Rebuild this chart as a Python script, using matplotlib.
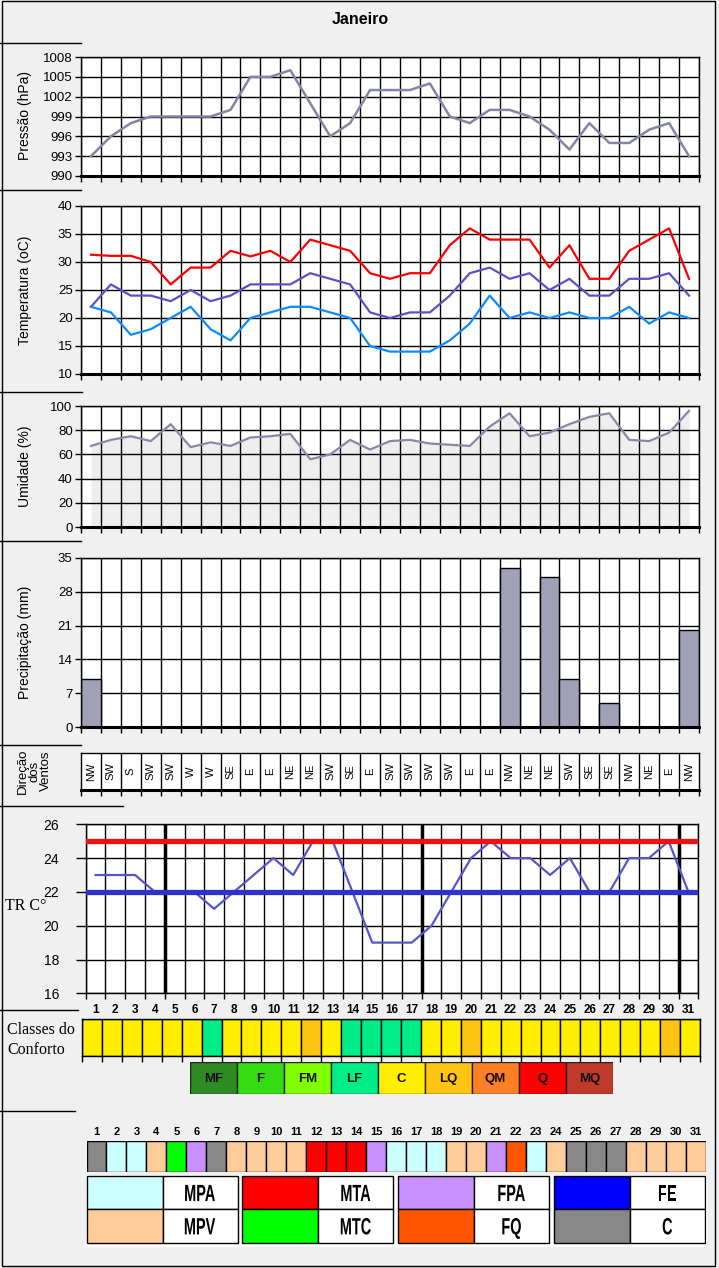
import matplotlib
matplotlib.use('Agg')
import matplotlib.pyplot as plt
from matplotlib import font_manager
from matplotlib.font_manager import FontProperties
from matplotlib.patches import Rectangle, PathPatch
from matplotlib.lines import Line2D
from matplotlib.textpath import TextPath
from matplotlib.transforms import Affine2D, ScaledTranslation
import numpy as np

# ---------------- data ----------------
days = list(range(1, 32))
pressure = [993, 996, 998, 999, 999, 999, 999, 1000, 1005, 1005, 1006, 1001, 996, 998, 1003, 1003,
            1003, 1004, 999, 998, 1000, 1000, 999, 997, 994, 998, 995, 995, 997, 998, 993]
temp_max = [31.3, 31.1, 31.1, 30, 26, 29, 29, 32, 31, 32, 30, 34, 33, 32, 28, 27, 28, 28, 33, 36,
            34, 34, 34, 29, 33, 27, 27, 32, 34, 36, 27]
temp_mean = [22, 26, 24, 24, 23, 25, 23, 24, 26, 26, 26, 28, 27, 26, 21, 20, 21, 21, 24, 28, 29,
             27, 28, 25, 27, 24, 24, 27, 27, 28, 24]
temp_min = [22, 21, 17, 18, 20, 22, 18, 16, 20, 21, 22, 22, 21, 20, 15, 14, 14, 14, 16, 19, 24,
            20, 21, 20, 21, 20, 20, 22, 19, 21, 20]
humidity = [67, 72, 75, 71, 85, 66, 70, 67, 74, 75, 77, 56, 60, 72, 64, 71, 72, 69, 68, 67, 83,
            94, 75, 78, 85, 91, 94, 72, 71, 78, 96]
precip = [10, 0, 0, 0, 0, 0, 0, 0, 0, 0, 0, 0, 0, 0, 0, 0, 0, 0, 0, 0, 0,
          33, 0, 31, 10, 0, 5, 0, 0, 0, 20]
wind = ['NW', 'SW', 'S', 'SW', 'SW', 'W', 'W', 'SE', 'E', 'E', 'NE', 'NE', 'SW', 'SE', 'E', 'SW',
        'SW', 'SW', 'SW', 'E', 'E', 'NW', 'NE', 'NE', 'SW', 'SE', 'SE', 'NW', 'NE', 'E', 'NW']
tr = [23, 23, 23, 22, 22, 22, 21, 22, 23, 24, 23, 25, 25, 22, 19, 19, 19, 20, 22, 24, 25, 24, 24,
      23, 24, 22, 22, 24, 24, 25, 22]
tr_upper = 25
tr_lower = 22
comfort = ['C'] * 6 + ['LF'] + ['C'] * 4 + ['LQ'] + ['C'] + ['LF'] * 4 + ['C', 'C', 'LQ'] + \
          ['C'] * 9 + ['LQ', 'C']
comfort_classes = ['MF', 'F', 'FM', 'LF', 'C', 'LQ', 'QM', 'Q', 'MQ']
comfort_colors = {'MF': '#2e8b22', 'F': '#33dd11', 'FM': '#80ff00', 'LF': '#00ee88',
                  'C': '#ffee00', 'LQ': '#ffc411', 'QM': '#ff7f27', 'Q': '#ff0000', 'MQ': '#c0392b'}
mass = ['C', 'MPA', 'MPA', 'MPV', 'MTC', 'FPA', 'C', 'MPV', 'MPV', 'MPV', 'MPV', 'MTA', 'MTA', 'MTA',
        'FPA', 'MPA', 'MPA', 'MPA', 'MPV', 'MPV', 'FPA', 'FQ', 'MPA', 'MPV', 'C', 'C', 'C', 'MPV',
        'MPV', 'MPV', 'MPV']
mass_colors = {'MPA': '#ccffff', 'MPV': '#ffcc99', 'MTA': '#ff0000', 'MTC': '#00ff00',
               'FPA': '#c890ff', 'FQ': '#ff5500', 'FE': '#0000ff', 'C': '#888888'}
mass_legend = [('MPA', 'MPV'), ('MTA', 'MTC'), ('FPA', 'FQ'), ('FE', 'C')]

# ---------------- setup ----------------
names = {f.name for f in font_manager.fontManager.ttflist}
SANS = 'Liberation Sans' if 'Liberation Sans' in names else 'DejaVu Sans'
SERIF = 'Liberation Serif' if 'Liberation Serif' in names else 'DejaVu Serif'
plt.rcParams['font.family'] = [SANS, 'DejaVu Sans']

W, H = 719, 1268
BG = '#f0f0f0'
fig = plt.figure(figsize=(W / 100, H / 100), dpi=100, facecolor=BG)


def add_ax(x0, y0, x1, y1):
    return fig.add_axes([x0 / W, 1 - y1 / H, (x1 - x0) / W, (y1 - y0) / H])


def fx(x):
    return x / W


def fy(y):
    return 1 - y / H


def stretched_text(ax, x, y, s, em_w, em_h, weight='bold', rot=0, color='black'):
    """Text as a path, with separate horizontal / vertical em sizes (px)."""
    tp = TextPath((0, 0), s, size=100, prop=FontProperties(family=SANS, weight=weight))
    ext = tp.get_extents()
    cx = (ext.x0 + ext.x1) / 2
    cy = 0.716 * 100 / 2
    tr_ = (Affine2D().translate(-cx, -cy).scale(em_w / 100, em_h / 100).rotate_deg(rot)
           + ScaledTranslation(x, y, ax.transData))
    ax.add_patch(PathPatch(tp, transform=tr_, facecolor=color, edgecolor='none', lw=0,
                           clip_on=False))


def style_cat(ax, ylim, yticks, labelsize=9.5):
    ax.set_facecolor('white')
    ax.set_xlim(0.5, 31.5)
    ax.set_ylim(*ylim)
    ax.set_yticks(yticks)
    ax.set_xticks(np.arange(0.5, 32, 1))
    ax.set_xticklabels([])
    ax.tick_params(axis='x', length=4, width=1, direction='out', color='black')
    ax.tick_params(axis='y', length=4, width=1, direction='out', labelsize=labelsize, pad=2)
    ax.grid(True, color='black', lw=1)
    for s in ax.spines.values():
        s.set_color('black')
        s.set_linewidth(1)
    ax.spines['bottom'].set_linewidth(2.2)


def ylabel(text, yc):
    fig.text(fx(25), fy(yc), text, rotation=90, ha='center', va='center', fontsize=10)


# Title
fig.text(fx(360), fy(19), 'Janeiro', ha='center', va='center', fontsize=11.5, fontweight='bold')

# Pressure
ax = add_ax(81, 57, 699, 176)
style_cat(ax, (990, 1008), range(990, 1009, 3))
ax.plot(days, pressure, color='#8484a4', lw=1.8, zorder=3)
ylabel('Pressão (hPa)', 116)

# Temperature
ax = add_ax(81, 206, 699, 374)
style_cat(ax, (10, 40), range(10, 41, 5))
ax.plot(days, temp_max, color='#ff0000', lw=1.6, zorder=3)
ax.plot(days, temp_mean, color='#5a50c8', lw=1.6, zorder=3)
ax.plot(days, temp_min, color='#0a8cff', lw=1.6, zorder=3)
ylabel('Temperatura (oC)', 290)

# Humidity
ax = add_ax(81, 406, 699, 527)
style_cat(ax, (0, 100), range(0, 101, 20))
ax.fill_between(days, humidity, 0, color='#eeeeee', zorder=1, lw=0)
ax.plot(days, humidity, color='#8888a8', lw=1.6, zorder=3)
ylabel('Umidade (%)', 466)

# Precipitation
ax = add_ax(81, 558, 699, 727)
style_cat(ax, (0, 35), range(0, 36, 7))
ax.bar(days, precip, width=1.0, color='#a0a0b8', edgecolor='black', lw=1, zorder=2)
ylabel('Precipitação (mm)', 642)

# Wind direction
ax = add_ax(81, 753, 699, 790)
style_cat(ax, (0, 1), [])
ax.grid(False)
for b in np.arange(1.5, 31, 1):
    ax.axvline(b, color='black', lw=1)
for d, w in zip(days, wind):
    ax.text(d, 0.5, w, rotation=90, ha='center', va='center', fontsize=8)
fig.text(fx(34), fy(771), 'Direção\ndos\nVentos', rotation=90, ha='center', va='center',
         fontsize=9.5, linespacing=0.95, multialignment='center')

# TR chart
ax = add_ax(85.7, 824.3, 698.3, 993.3)
ax.set_facecolor('white')
ax.set_xlim(0.5, 31.5)
ax.set_ylim(16, 26)
ax.set_yticks(range(16, 27, 2))
ax.set_xticks(days)
ax.set_xticklabels([str(d) for d in days], fontsize=8.5, fontweight='bold')
ax.set_xticks(np.arange(0.5, 32, 1), minor=True)
ax.tick_params(axis='x', which='major', length=0, pad=8)
ax.tick_params(axis='x', which='minor', length=4, width=1, direction='out')
ax.tick_params(axis='y', length=7, width=1, direction='out', labelsize=10, pad=12)
ax.grid(True, axis='y', color='black', lw=1)
ax.grid(True, axis='x', which='minor', color='black', lw=1)
for s in ax.spines.values():
    s.set_color('black')
    s.set_linewidth(1)
for b in (4.5, 17.5, 30.5):
    ax.axvline(b, color='black', lw=2.5, zorder=2)
ax.plot(days, tr, color='#5555cc', lw=1.6, zorder=3)
ax.axhline(tr_upper, color='#ee1111', lw=3.8, zorder=4)
ax.axhline(tr_lower, color='#3030cc', lw=3.8, zorder=4)
fig.text(fx(5), fy(906), 'TR C°', ha='left', va='center', fontsize=11.5, family=SERIF)

# Comfort classes strip
ax = add_ax(82, 1019.3, 700, 1055.7)
ax.set_xlim(0.5, 31.5)
ax.set_ylim(0, 1)
ax.bar(days, [1] * 31, width=1.0, color=[comfort_colors[c] for c in comfort],
       edgecolor='black', lw=1)
ax.set_xticks(np.arange(0.5, 32, 1))
ax.set_xticklabels([])
ax.set_yticks([])
ax.tick_params(axis='x', length=4, width=1, direction='out')
for s in ax.spines.values():
    s.set_linewidth(1)
fig.text(fx(7), fy(1030.5), 'Classes do', ha='left', va='center', fontsize=11.5, family=SERIF)
fig.text(fx(7), fy(1050), 'Conforto', ha='left', va='center', fontsize=11.5, family=SERIF)

# Comfort legend
ax = add_ax(190, 1062.3, 613, 1094.3)
ax.set_xlim(0, 9)
ax.set_ylim(0, 1)
ax.axis('off')
ax.bar(np.arange(9) + 0.5, [1] * 9, width=1.0,
       color=[comfort_colors[c] for c in comfort_classes], edgecolor='#222222', lw=1)
for i, c in enumerate(comfort_classes):
    ax.text(i + 0.5, 0.47, c, ha='center', va='center', fontsize=9.5, fontweight='bold',
            color='#111111')

# Air mass strip
ax = add_ax(86.5, 1140.7, 706, 1172.3)
ax.set_xlim(0.5, 31.5)
ax.set_ylim(0, 1)
ax.axis('off')
ax.bar(days, [1] * 31, width=1.0, color=[mass_colors[m] for m in mass], edgecolor='black', lw=1)
for d in days:
    ax.text(d, 1.29, str(d), ha='center', va='center', fontsize=8, fontweight='bold')

# Air mass legend
ax = add_ax(86, 1175, 706, 1247)
ax.set_xlim(86, 706)
ax.set_ylim(1247, 1175)
ax.set_facecolor('white')
for s in ax.spines.values():
    s.set_visible(False)
ax.set_xticks([])
ax.set_yticks([])
row_top = [1176, 1209.3]
row_h = 33.3
for g, pair in enumerate(mass_legend):
    x0 = 86.5 + g * 155.8
    for r, key in enumerate(pair):
        ax.add_patch(Rectangle((x0, row_top[r]), 76, row_h, facecolor=mass_colors[key],
                               edgecolor='black', lw=1))
        ax.add_patch(Rectangle((x0 + 76, row_top[r]), 75, row_h, facecolor='white',
                               edgecolor='black', lw=1))
        stretched_text(ax, x0 + 76 + 37.5, row_top[r] + row_h / 2, key, 14.5, 23.5)

# Left separator lines
for y, xe in [(43, 81), (190, 81), (391.5, 82), (541, 81), (744.5, 81), (805.5, 123),
              (1010, 78), (1111, 75)]:
    fig.add_artist(Line2D([fx(0), fx(xe)], [fy(y), fy(y)], color='black', lw=1))

# Outer border
fig.add_artist(Rectangle((fx(1.5), fy(1265.5)), (714.5 - 1.5) / W, (1265.5 - 0.5) / H,
                         transform=fig.transFigure, fill=False, edgecolor='black', lw=1))

fig.savefig('out.png', dpi=100, facecolor=BG)
